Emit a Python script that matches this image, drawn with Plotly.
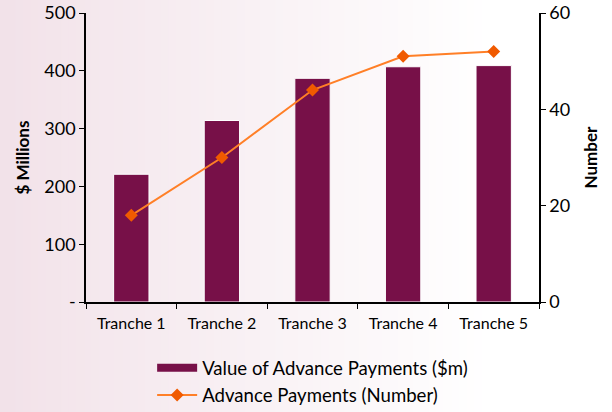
import plotly.graph_objects as go

# Advance payment tranches
tranches = ["Tranche 1", "Tranche 2", "Tranche 3", "Tranche 4", "Tranche 5"]
value_musd = [221, 314, 387, 407, 409]      # $ millions
payment_count = [18, 30, 44, 51, 52]         # number of payments

left_ticks = [0, 100, 200, 300, 400, 500]
left_tick_text = ["-", "100", "200", "300", "400", "500"]
right_ticks = [0, 20, 40, 60]

FONT = "Lato"
BAR_COLOR = "#771048"
LINE_COLOR = "#ff7f27"
MARKER_COLOR = "#f05a00"

W, H = 612, 412
ML, MR, MT, MB = 86, 73, 13, 110

fig = go.Figure()

fig.add_trace(go.Bar(
    x=tranches, y=value_musd,
    name="Value of Advance Payments ($m)",
    marker=dict(color=BAR_COLOR, line=dict(color="#ffffff", width=1)),
    yaxis="y", showlegend=False,
))
# legend key for the bars, drawn as a wide swatch
fig.add_trace(go.Scatter(
    x=[None], y=[None], mode="lines",
    name="Value of Advance Payments ($m)",
    line=dict(color=BAR_COLOR, width=8),
    hoverinfo="skip",
))

fig.add_trace(go.Scatter(
    x=tranches, y=payment_count,
    name="Advance Payments (Number)",
    mode="lines+markers",
    line=dict(color=LINE_COLOR, width=2),
    marker=dict(symbol="diamond", size=10, color=MARKER_COLOR),
    yaxis="y2",
))

fig.update_layout(
    width=W, height=H,
    margin=dict(l=ML, r=MR, t=MT, b=MB, autoexpand=False),
    paper_bgcolor="#ffffff",
    plot_bgcolor="rgba(0,0,0,0)",
    font=dict(family=FONT, size=15, color="#000000"),
    bargap=0.61,
    showlegend=True,
    legend=dict(
        orientation="v", x=0.146, y=-0.163, xanchor="left", yanchor="top",
        font=dict(family=FONT, size=18.6, color="#000000"),
        bgcolor="rgba(0,0,0,0)", itemwidth=40,
    ),
    xaxis=dict(
        showline=True, linecolor="#000000", linewidth=1.5,
        ticks="outside", tickson="boundaries", ticklen=5, tickcolor="#000000",
        tickfont=dict(family=FONT, size=16, color="#000000"),
        ticklabelstandoff=6,
        showgrid=False, zeroline=False, automargin=False,
    ),
    yaxis=dict(
        range=[0, 500], tickvals=left_ticks, ticktext=left_tick_text,
        showline=True, linecolor="#000000", linewidth=1.5,
        ticks="outside", ticklen=5, tickcolor="#000000",
        tickfont=dict(family=FONT, size=18, color="#000000"),
        showgrid=False, zeroline=False, automargin=False,
        title=dict(text="<b>$ Millions</b>", font=dict(family=FONT, size=17), standoff=10),
    ),
    yaxis2=dict(
        range=[0, 60], tickvals=right_ticks, overlaying="y", side="right",
        showline=True, linecolor="#000000", linewidth=1.5,
        ticks="outside", ticklen=5, tickcolor="#000000",
        tickfont=dict(family=FONT, size=18, color="#000000"),
        showgrid=False, zeroline=False, automargin=False,
        title=dict(text="<b>Number</b>", font=dict(family=FONT, size=17), standoff=16),
    ),
)

# pink-to-white horizontal wash behind the whole page
c0 = (242, 226, 233)
c1 = (255, 255, 255)
pw, ph = W - ML - MR, H - MT - MB
x_left, x_right = -ML / pw, 1 + MR / pw
bg_shapes = []
n = 80
for i in range(n):
    t = min(1.0, (i / (n - 1)) / 0.8)
    r = round(c0[0] + (c1[0] - c0[0]) * t)
    g = round(c0[1] + (c1[1] - c0[1]) * t)
    b = round(c0[2] + (c1[2] - c0[2]) * t)
    xa = x_left + (x_right - x_left) * i / n
    xb = x_left + (x_right - x_left) * (i + 1) / n + 0.003
    if i == n - 1:
        xb = 3
    bg_shapes.append(dict(
        type="rect", xref="paper", yref="paper",
        x0=xa if i else -3, x1=xb, y0=-3, y1=3, line=dict(width=0),
        fillcolor=f"rgb({r},{g},{b})", layer="below",
    ))
fig.update_layout(shapes=bg_shapes)

fig.write_html("out.html")
